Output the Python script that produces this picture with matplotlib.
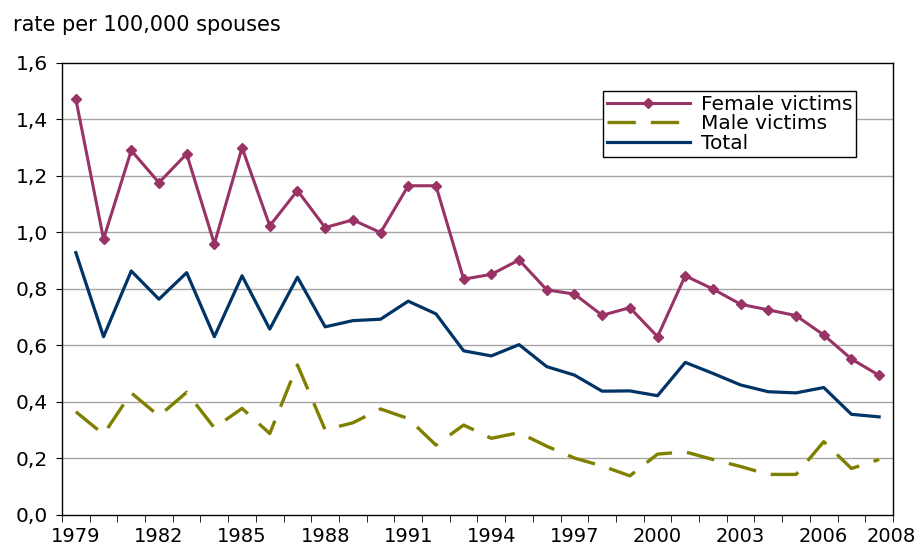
import matplotlib
matplotlib.use("Agg")
import matplotlib.pyplot as plt
from matplotlib.ticker import FixedLocator, FuncFormatter

years = list(range(1979, 2009))
female = [1.472, 0.976, 1.29, 1.176, 1.278, 0.959, 1.30, 1.023, 1.148, 1.017,
          1.044, 0.999, 1.165, 1.165, 0.834, 0.851, 0.902, 0.796, 0.781, 0.706,
          0.733, 0.630, 0.846, 0.799, 0.745, 0.725, 0.705, 0.636, 0.551, 0.493]
male = [0.364, 0.284, 0.431, 0.349, 0.433, 0.307, 0.376, 0.287, 0.530, 0.300,
        0.325, 0.374, 0.340, 0.246, 0.317, 0.270, 0.290, 0.242, 0.200, 0.172,
        0.137, 0.214, 0.222, 0.195, 0.170, 0.142, 0.142, 0.258, 0.163, 0.195]
total = [0.928, 0.630, 0.863, 0.763, 0.857, 0.630, 0.846, 0.657, 0.841, 0.665,
         0.687, 0.692, 0.756, 0.711, 0.580, 0.562, 0.602, 0.524, 0.494, 0.437,
         0.438, 0.421, 0.539, 0.500, 0.459, 0.435, 0.431, 0.450, 0.355, 0.346]
tick_years = [1979, 1982, 1985, 1988, 1991, 1994, 1997, 2000, 2003, 2006]
yticks = [0.0, 0.2, 0.4, 0.6, 0.8, 1.0, 1.2, 1.4, 1.6]

plt.rcParams['font.family'] = ['DejaVu Sans']
fig = plt.figure(figsize=(9.22, 5.54), dpi=100)
ax = fig.add_axes([62/922, 1 - 514.5/554, (893 - 62)/922, (514.5 - 63)/554])

ax.set_xlim(years[0] - 0.5, years[-1] + 0.5)
ax.set_ylim(0, 1.6)

for yv in yticks[1:-1]:
    ax.axhline(yv, color='#a6a6a6', lw=1.0, zorder=1)

ax.plot(years, female, color='#993366', lw=2.2, marker='D', ms=5.5,
        label='Female victims', zorder=4)
ax.plot(years, male, color='#808000', lw=2.4, dashes=(8.5, 4.5),
        label='Male victims', zorder=3)
ax.plot(years, total, color='#003366', lw=2.3, label='Total', zorder=3)

# x axis: minor ticks at category boundaries, labels at category centers
ax.xaxis.set_minor_locator(FixedLocator([y - 0.5 for y in years] + [years[-1] + 0.5]))
label_pos = tick_years + [years[-1] + 0.45]
label_txt = [str(y) for y in tick_years] + [str(years[-1])]
ax.set_xticks(label_pos)
ax.set_xticklabels(label_txt, fontsize=14)
ax.tick_params(axis='x', which='major', length=0, pad=9)
ax.tick_params(axis='x', which='minor', length=5, direction='out', color='black')

ax.set_yticks(yticks)
ax.yaxis.set_major_formatter(FuncFormatter(lambda v, p: f"{v:.1f}".replace('.', ',')))
ax.tick_params(axis='y', which='major', length=4, direction='out', labelsize=14.5, pad=6)

for s in ax.spines.values():
    s.set_color('black')
    s.set_linewidth(1.0)

fig.text(13/922, 1 - 25/554, 'rate per 100,000 spouses', fontsize=15, va='center', ha='left')

leg = ax.legend(loc='upper left', bbox_to_anchor=((603 - 62)/(893 - 62), 1 - (91 - 63)/(514.5 - 63)),
                fontsize=14.5, frameon=True, fancybox=False, edgecolor='black',
                framealpha=1, borderpad=0.2, labelspacing=0.02, handlelength=4.1,
                handletextpad=0.55, borderaxespad=0)
leg.get_frame().set_linewidth(1.0)

fig.savefig('out.png', dpi=100)
